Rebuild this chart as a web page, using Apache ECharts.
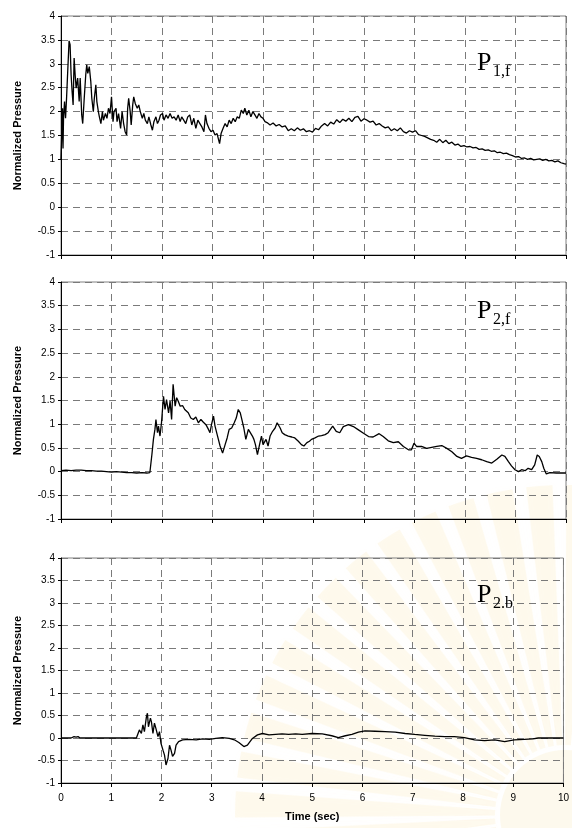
<!DOCTYPE html>
<html lang="en">
<head>
    <meta charset="UTF-8">
    <title>Normalized Pressure</title>
    <script src="https://cdn.jsdelivr.net/npm/echarts@6/dist/echarts.min.js"></script>
    <style>
        html, body { margin: 0; padding: 0; background: #fff; }
    </style>
</head>
<body>
<div id="main" style="width:572px;height:828px;"></div>
<script type="text/javascript">
    // [time (sec), normalized pressure]
    var p1fData = [
        [0.00,1.00],[0.01,1.37],[0.03,2.07],[0.04,1.23],[0.05,1.86],[0.07,2.21],[0.09,1.86],[0.11,2.28],
        [0.13,2.77],[0.16,3.48],[0.18,3.40],[0.20,2.77],[0.22,2.42],[0.24,2.14],[0.26,3.12],[0.28,2.77],
        [0.30,2.49],[0.33,2.70],[0.36,2.21],[0.38,2.70],[0.41,1.93],[0.43,1.75],[0.46,2.28],[0.49,2.77],
        [0.51,2.98],[0.53,2.80],[0.56,2.94],[0.59,2.63],[0.61,2.28],[0.64,2.00],[0.66,2.28],[0.69,2.56],
        [0.71,2.21],[0.74,2.00],[0.76,1.89],[0.79,1.75],[0.82,2.00],[0.84,1.82],[0.88,1.96],[0.91,1.86],
        [0.94,2.07],[0.97,1.96],[1.00,2.31],[1.03,1.79],[1.05,2.00],[1.09,2.07],[1.11,1.79],[1.14,1.96],
        [1.18,1.65],[1.21,2.00],[1.24,1.75],[1.27,1.58],[1.30,1.51],[1.32,2.07],[1.34,2.28],[1.37,2.00],
        [1.39,1.72],[1.42,2.14],[1.44,2.31],[1.47,2.17],[1.51,2.07],[1.54,2.14],[1.57,2.00],[1.61,1.86],
        [1.64,1.96],[1.67,1.82],[1.71,1.75],[1.74,1.89],[1.78,1.72],[1.81,1.61],[1.84,1.79],[1.88,1.89],
        [1.91,1.75],[1.94,1.82],[1.97,1.93],[2.01,1.96],[2.04,1.82],[2.08,1.93],[2.12,1.86],[2.16,1.96],
        [2.20,1.86],[2.24,1.89],[2.28,1.82],[2.32,1.93],[2.36,1.79],[2.39,1.89],[2.43,1.82],[2.47,1.75],
        [2.51,1.89],[2.55,1.93],[2.59,1.72],[2.63,1.86],[2.67,1.65],[2.71,1.82],[2.75,1.75],[2.79,1.68],
        [2.83,1.58],[2.86,1.93],[2.89,1.75],[2.93,1.65],[2.97,1.58],[3.01,1.61],[3.05,1.51],[3.09,1.54],
        [3.14,1.33],[3.17,1.54],[3.21,1.65],[3.25,1.75],[3.29,1.68],[3.33,1.82],[3.37,1.75],[3.41,1.86],
        [3.45,1.79],[3.49,1.89],[3.53,1.86],[3.57,2.03],[3.61,1.96],[3.64,2.07],[3.68,1.93],[3.72,2.03],
        [3.76,1.89],[3.80,2.00],[3.84,1.93],[3.88,1.86],[3.92,1.96],[3.96,1.89],[4.00,1.86],[4.04,1.79],
        [4.08,1.77],[4.14,1.72],[4.20,1.76],[4.26,1.70],[4.32,1.73],[4.38,1.68],[4.44,1.70],[4.50,1.60],
        [4.56,1.64],[4.62,1.60],[4.68,1.66],[4.74,1.61],[4.80,1.64],[4.86,1.58],[4.92,1.60],[4.98,1.57],
        [5.04,1.65],[5.10,1.62],[5.16,1.70],[5.22,1.75],[5.28,1.70],[5.34,1.78],[5.40,1.74],[5.46,1.83],
        [5.52,1.77],[5.58,1.84],[5.64,1.80],[5.70,1.86],[5.76,1.79],[5.82,1.88],[5.88,1.90],[5.94,1.80],
        [6.00,1.85],[6.06,1.82],[6.12,1.78],[6.18,1.80],[6.24,1.72],[6.30,1.75],[6.36,1.70],[6.42,1.66],
        [6.48,1.68],[6.54,1.60],[6.60,1.64],[6.66,1.60],[6.72,1.66],[6.78,1.58],[6.84,1.55],[6.90,1.60],
        [6.96,1.57],[7.02,1.60],[7.08,1.52],[7.14,1.50],[7.20,1.48],[7.26,1.45],[7.32,1.42],[7.38,1.40],
        [7.44,1.36],[7.50,1.42],[7.56,1.35],[7.62,1.40],[7.68,1.33],[7.74,1.36],[7.80,1.30],[7.86,1.32],
        [7.92,1.27],[7.98,1.29],[8.04,1.26],[8.10,1.27],[8.16,1.24],[8.22,1.25],[8.28,1.21],[8.34,1.22],
        [8.40,1.19],[8.46,1.20],[8.52,1.17],[8.58,1.18],[8.64,1.14],[8.70,1.15],[8.76,1.12],[8.82,1.13],
        [8.88,1.10],[8.94,1.08],[9.00,1.05],[9.06,1.06],[9.12,1.02],[9.18,1.03],[9.24,1.00],[9.30,1.02],
        [9.36,0.99],[9.42,1.00],[9.48,1.01],[9.54,0.98],[9.60,1.00],[9.66,0.97],[9.72,0.98],[9.78,0.95],
        [9.84,0.97],[9.90,0.93],[9.96,0.91],[10.00,0.90]
    ];

    var p2fData = [
        [0.00,0.02],[0.10,0.03],[0.20,0.02],[0.30,0.03],[0.40,0.03],[0.50,0.02],[0.60,0.02],[0.70,0.01],
        [0.80,0.01],[0.90,0.00],[1.00,-0.01],[1.10,0.00],[1.20,-0.01],[1.30,-0.02],[1.40,-0.02],[1.50,-0.03],
        [1.60,-0.02],[1.70,-0.03],[1.76,-0.02],[1.78,0.01],[1.80,0.36],[1.83,0.68],[1.86,0.89],[1.88,1.10],
        [1.91,0.82],[1.93,0.96],[1.96,0.75],[1.99,1.03],[2.03,1.59],[2.06,1.31],[2.09,1.52],[2.13,1.24],
        [2.16,1.49],[2.19,1.10],[2.22,1.84],[2.26,1.38],[2.29,1.56],[2.32,1.49],[2.36,1.38],[2.41,1.39],
        [2.45,1.31],[2.52,1.24],[2.57,1.13],[2.62,1.10],[2.67,1.15],[2.72,1.03],[2.77,1.10],[2.82,1.04],
        [2.87,0.99],[2.92,0.89],[2.95,0.82],[2.98,0.99],[3.02,1.17],[3.05,0.96],[3.10,0.75],[3.15,0.54],
        [3.20,0.39],[3.25,0.57],[3.29,0.71],[3.33,0.89],[3.38,0.92],[3.43,1.03],[3.47,1.13],[3.51,1.31],
        [3.55,1.24],[3.59,1.06],[3.62,0.92],[3.66,0.68],[3.71,0.89],[3.74,0.85],[3.79,0.75],[3.82,0.68],
        [3.85,0.57],[3.89,0.36],[3.94,0.61],[3.97,0.75],[4.00,0.57],[4.06,0.68],[4.10,0.54],[4.14,0.75],
        [4.19,0.85],[4.24,0.92],[4.28,1.03],[4.34,0.92],[4.38,0.82],[4.43,0.78],[4.50,0.75],[4.57,0.73],
        [4.63,0.71],[4.70,0.64],[4.76,0.57],[4.81,0.54],[4.87,0.61],[4.92,0.64],[4.96,0.68],[5.03,0.71],
        [5.10,0.75],[5.16,0.76],[5.23,0.78],[5.29,0.82],[5.38,0.96],[5.45,0.85],[5.52,0.82],[5.59,0.95],
        [5.69,0.99],[5.79,0.95],[5.89,0.88],[5.99,0.81],[6.09,0.74],[6.18,0.73],[6.30,0.80],[6.38,0.74],
        [6.48,0.65],[6.58,0.61],[6.68,0.63],[6.78,0.53],[6.88,0.46],[6.94,0.46],[6.99,0.60],[7.04,0.53],
        [7.14,0.53],[7.24,0.49],[7.34,0.51],[7.44,0.53],[7.54,0.55],[7.64,0.49],[7.74,0.42],[7.84,0.32],
        [7.93,0.28],[8.03,0.33],[8.13,0.30],[8.23,0.28],[8.33,0.25],[8.43,0.21],[8.53,0.18],[8.63,0.26],
        [8.73,0.35],[8.79,0.32],[8.86,0.21],[8.92,0.12],[8.99,0.04],[9.06,0.00],[9.12,0.04],[9.19,0.02],
        [9.25,0.07],[9.32,0.04],[9.38,0.14],[9.43,0.35],[9.47,0.32],[9.52,0.21],[9.56,0.07],[9.61,-0.05],
        [9.68,-0.02],[9.81,-0.03],[10.00,-0.03]
    ];

    var p2bData = [
        [0.00,0.00],[0.20,0.00],[0.22,0.02],[0.26,0.03],[0.30,0.02],[0.34,0.03],[0.38,0.00],[0.50,0.00],
        [1.00,0.00],[1.50,0.00],[1.53,0.03],[1.56,0.18],[1.60,0.10],[1.63,0.29],[1.66,0.14],[1.70,0.47],
        [1.72,0.55],[1.74,0.25],[1.78,0.44],[1.80,0.36],[1.83,0.10],[1.86,0.33],[1.89,0.21],[1.93,0.03],
        [1.96,0.14],[1.99,-0.12],[2.03,-0.27],[2.06,-0.38],[2.09,-0.60],[2.13,-0.45],[2.16,-0.16],[2.19,-0.27],
        [2.22,-0.41],[2.26,-0.34],[2.29,-0.16],[2.34,-0.08],[2.42,-0.04],[2.55,-0.03],[2.69,-0.04],[2.82,-0.02],
        [2.95,-0.03],[3.08,-0.01],[3.21,0.01],[3.35,-0.01],[3.45,-0.04],[3.54,-0.10],[3.64,-0.19],[3.71,-0.16],
        [3.81,-0.01],[3.91,0.07],[4.01,0.10],[4.14,0.07],[4.27,0.08],[4.40,0.09],[4.53,0.08],[4.67,0.09],
        [4.80,0.08],[5.00,0.10],[5.20,0.09],[5.39,0.05],[5.52,0.01],[5.66,0.05],[5.79,0.08],[5.92,0.13],
        [6.05,0.16],[6.25,0.15],[6.45,0.14],[6.65,0.13],[6.85,0.10],[7.04,0.08],[7.24,0.06],[7.44,0.04],
        [7.64,0.03],[7.83,0.03],[8.03,0.01],[8.23,-0.04],[8.43,-0.06],[8.63,-0.04],[8.83,-0.08],[9.02,-0.04],
        [9.22,-0.03],[9.39,-0.02],[9.50,0.00],[10.00,0.00]
    ];

    var panelNames = ['1,f', '2,f', '2.b'];

    var myChart = echarts.init(document.getElementById('main'));

    var gridBox = [
        {left: 61, top: 16, width: 505, height: 239},
        {left: 61, top: 282, width: 505, height: 237},
        {left: 61, top: 558, width: 505, height: 225}
    ];

    var dashed = {show: true, lineStyle: {color: '#7a7a7a', width: 1, type: [7, 5]}};

    var grids = [], xAxes = [], yAxes = [], series = [];
    var allData = [p1fData, p2fData, p2bData];
    for (var i = 0; i < 3; i++) {
        var g = gridBox[i];
        grids.push({left: g.left, top: g.top, width: g.width, height: g.height,
            show: true, borderColor: '#808080', borderWidth: 1});
        xAxes.push({
            type: 'value', gridIndex: i, min: 0, max: 10, interval: 1,
            axisLine: {onZero: false, lineStyle: {color: '#000', width: 1}},
            axisTick: {show: true, length: 4, lineStyle: {color: '#000'}},
            axisLabel: {show: i === 2, color: '#000', fontSize: 10, fontFamily: 'Liberation Sans', margin: 10},
            splitLine: dashed,
            name: i === 2 ? 'Time (sec)' : '',
            nameLocation: 'middle', nameGap: 28,
            nameTextStyle: {color: '#000', fontSize: 11, fontWeight: 'bold', fontFamily: 'Liberation Sans'}
        });
        yAxes.push({
            type: 'value', gridIndex: i, min: -1, max: 4, interval: 0.5,
            axisLine: {show: true, lineStyle: {color: '#000', width: 1}},
            axisTick: {show: true, length: 3, lineStyle: {color: '#000'}},
            axisLabel: {color: '#000', fontSize: 10, fontFamily: 'Liberation Sans', margin: 6},
            splitLine: dashed,
            name: 'Normalized Pressure', nameLocation: 'middle', nameGap: 38,
            nameTextStyle: {color: '#000', fontSize: 11, fontWeight: 'bold', fontFamily: 'Liberation Sans'}
        });
        series.push({
            type: 'line', xAxisIndex: i, yAxisIndex: i, data: allData[i],
            showSymbol: false, symbol: 'none', z: 5,
            lineStyle: {color: '#000', width: 1.3}
        });
    }

    var graphics = [];

    // very faint watermark emblem behind the lower right corner
    var rays = 16;
    for (var r = 0; r < rays; r++) {
        var a0 = Math.PI * 0.92 + r * (Math.PI * 0.62 / rays);
        graphics.push({type: 'sector', z: -10, silent: true,
            shape: {cx: 565, cy: 815, r0: 70, r: 330, startAngle: a0, endAngle: a0 + 0.08},
            style: {fill: 'rgba(246,220,130,0.13)', shadowBlur: 10, shadowColor: 'rgba(246,220,130,0.2)'}});
    }
    graphics.push({type: 'circle', z: -10, silent: true,
        shape: {cx: 565, cy: 815, r: 65},
        style: {fill: 'rgba(240,212,130,0.14)'}});

    // panel labels P with subscript
    var labelTop = [50, 298, 582];
    for (var k = 0; k < 3; k++) {
        graphics.push({type: 'text', left: 477, top: labelTop[k], z: 10,
            style: {text: 'P', font: '26px "Liberation Serif"', fill: '#000'}});
        graphics.push({type: 'text', left: 493, top: labelTop[k] + 14, z: 10,
            style: {text: panelNames[k], font: '16px "Liberation Serif"', fill: '#000'}});
    }

    myChart.setOption({
        animation: false,
        backgroundColor: '#fff',
        grid: grids,
        xAxis: xAxes,
        yAxis: yAxes,
        series: series,
        graphic: graphics
    });
</script>
</body>
</html>
